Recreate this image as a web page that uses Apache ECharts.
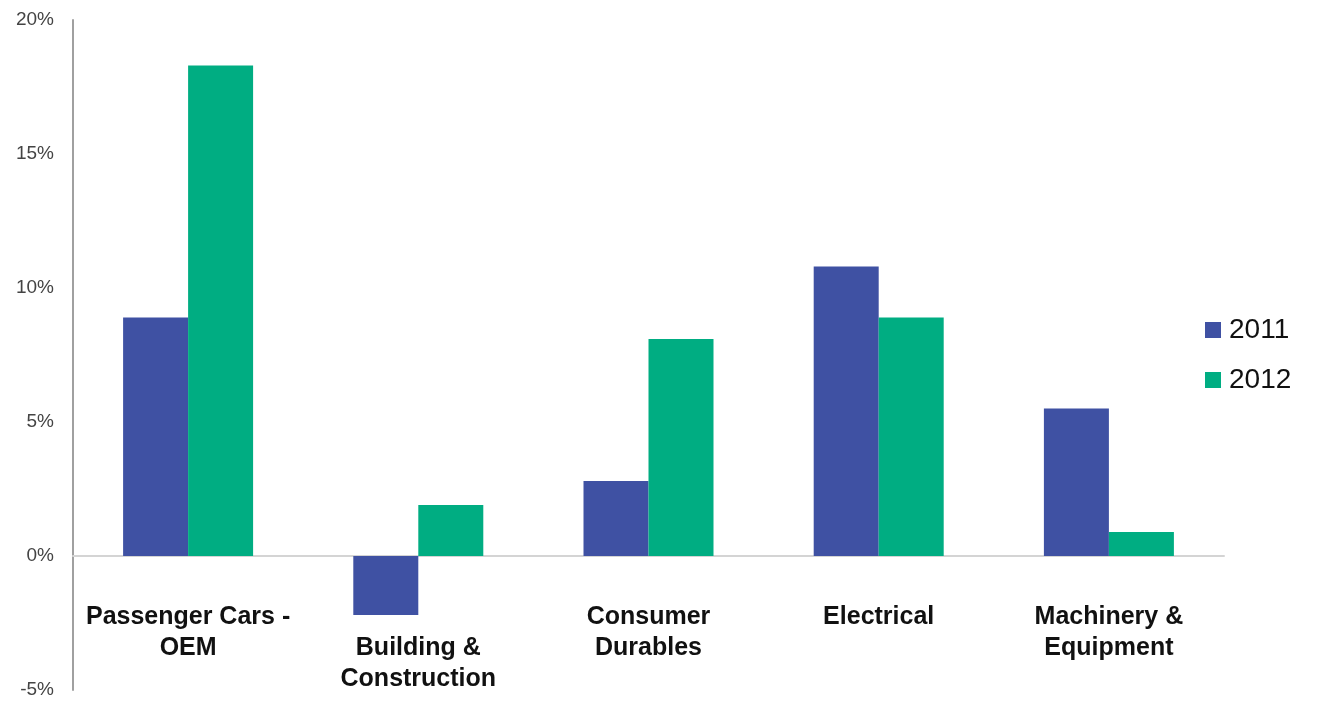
<!DOCTYPE html>
<html lang="en">
<head>
	<meta charset="UTF-8">
	<title>Growth by segment 2011-2012</title>
	<script src="https://cdn.jsdelivr.net/npm/echarts@6/dist/echarts.min.js"></script>
	<style>
		body { margin: 0; background: #fff; }
	</style>
</head>
<body>
	<div id="main" style="width: 1321px;height: 704px;"></div>

	<script>
		var categories = [
			'Passenger Cars -\nOEM',
			'Building &\nConstruction',
			'Consumer\nDurables',
			'Electrical',
			'Machinery &\nEquipment'
		];
		var years = ['2011', '2012'];
		var values2011 = [8.9, -2.2, 2.8, 10.8, 5.5];
		var values2012 = [18.3, 1.9, 8.1, 8.9, 0.9];

		var chartDom = document.getElementById('main');
		var myChart = echarts.init(chartDom);

		// labels are drawn by a second, line-less x axis; the second category
		// sits one line lower in the original
		var labelData = categories.map(function (c, i) {
			return i === 1 ? { value: c, textStyle: { padding: [31, 0, 0, 0] } } : c;
		});

		var option = {
			animation: false,
			textStyle: { fontFamily: 'Liberation Sans, Arial, sans-serif' },
			grid: { left: 73, right: 97, top: 20, bottom: 14, outerBoundsMode: 'none' },
			legend: {
				orient: 'vertical',
				left: 1200,
				top: 311,
				itemWidth: 16,
				itemHeight: 16,
				itemGap: 22,
				icon: 'rect',
				textStyle: { fontSize: 28, color: '#111', padding: [0, 0, 0, 3] },
				data: years
			},
			xAxis: [
				{
					type: 'category',
					data: categories,
					position: 'bottom',
					axisTick: { show: false },
					axisLabel: { show: false },
					axisLine: { onZero: true, lineStyle: { color: '#d4d4d4', width: 2 } }
				},
				{
					type: 'category',
					data: labelData,
					position: 'bottom',
					axisTick: { show: false },
					axisLine: { show: false, onZero: false },
					axisLabel: {
						interval: 0,
						margin: -88,
						fontSize: 25,
						fontWeight: 'bold',
						color: '#111',
						lineHeight: 31
					}
				}
			],
			yAxis: {
				type: 'value',
				min: -5,
				max: 20,
				interval: 5,
				splitLine: { show: false },
				axisLine: { show: true, lineStyle: { color: '#a0a0a0', width: 2 } },
				axisLabel: {
					formatter: '{value}%',
					fontSize: 19,
					color: '#444',
					margin: 19
				}
			},
			series: [
				{
					name: '2011',
					type: 'bar',
					data: values2011,
					barWidth: 65,
					barGap: '0%',
					itemStyle: { color: '#3F51A3' }
				},
				{
					name: '2012',
					type: 'bar',
					data: values2012,
					barWidth: 65,
					itemStyle: { color: '#00AD82' }
				}
			]
		};

		myChart.setOption(option);
	</script>
</body>
</html>
